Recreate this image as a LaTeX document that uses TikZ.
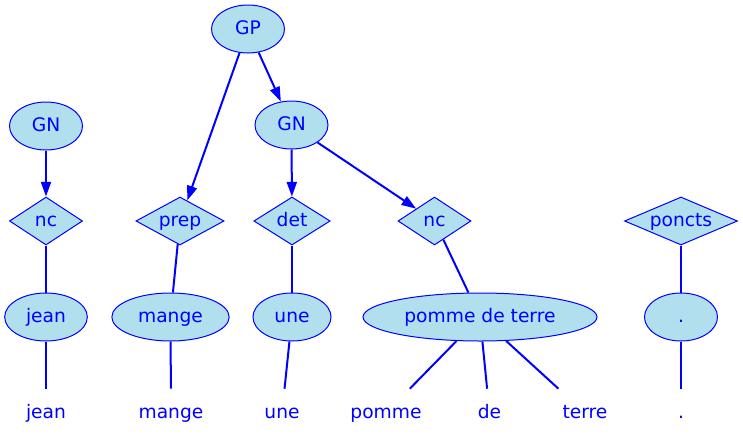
\documentclass[tikz,border=0pt]{standalone}
\usepackage{fontspec}
\setmainfont{DejaVu Sans}
\usetikzlibrary{shapes.geometric,arrows.meta}
\definecolor{treefill}{HTML}{B2DFEE}

\begin{document}
\begin{tikzpicture}[x=0.75pt, y=-0.75pt,
        font=\fontsize{14}{16}\selectfont, text=blue,
        phrase/.style={ellipse, draw=blue, fill=treefill, line width=0.75pt, inner sep=1pt,
            minimum height=36pt, minimum width=54.75pt, text height=11.6pt, text depth=3pt},
        tagbox/.style={diamond, draw=blue, fill=treefill, line width=0.75pt, inner sep=0pt,
            shape aspect=2.35, minimum height=36pt, minimum width=54.75pt, text height=11.6pt, text depth=3pt},
        leaf/.style={inner sep=2pt, minimum height=36pt, minimum width=54pt, text height=11.6pt, text depth=3pt},
        link/.style={draw=blue, line width=1.5pt},
        linkarrow/.style={link, -{Triangle[length=11pt,width=7.5pt]}}]
        \useasboundingbox (0,0) rectangle (743,443);
        % phrases
        \node[phrase] (gp) at (248,29) {GP};
        \node[phrase] (gnA) at (46,126) {GN};
        \node[phrase] (gnB) at (291.5,125) {GN};
        % tags
        \node[tagbox] (ncA) at (46,221) {nc};
        \node[tagbox, minimum width=64.5pt] (prep) at (180,221) {prep};
        \node[tagbox] (det) at (292,221) {det};
        \node[tagbox] (ncB) at (434.5,221) {nc};
        \node[tagbox, minimum width=84.75pt] (poncts) at (681,221) {poncts};
        % lexical units
        \node[phrase, minimum width=62pt] (jean) at (46,317) {jean};
        \node[phrase, minimum width=88pt] (mange) at (170.5,317) {mange};
        \node[phrase, minimum width=58.5pt] (une) at (292,317) {une};
        \node[phrase, minimum width=175.5pt] (pdt) at (480,317) {pomme de terre};
        \node[phrase] (point) at (681,317) {.};
        % words
        \node[leaf] (wJean) at (46,413) {jean};
        \node[leaf] (wMange) at (171,413) {mange};
        \node[leaf] (wUne) at (282,413) {une};
        \node[leaf] (wPomme) at (386,413) {pomme};
        \node[leaf] (wDe) at (489.5,413) {de};
        \node[leaf] (wTerre) at (585,413) {terre};
        \node[leaf] (wPoint) at (681,413) {.};

        \draw[linkarrow] (gnA) -- (ncA);
        \draw[linkarrow] (gp) -- (prep);
        \draw[linkarrow] (gp) -- (gnB);
        \draw[linkarrow] (gnB) -- (det);
        \draw[linkarrow] (gnB) -- (ncB);
        \draw[link] (ncA) -- (jean);
        \draw[link] (prep) -- (mange);
        \draw[link] (det) -- (une);
        \draw[link] (ncB) -- (pdt);
        \draw[link] (poncts) -- (point);
        \draw[link] (jean) -- (wJean);
        \draw[link] (mange) -- (wMange);
        \draw[link] (une) -- (wUne);
        \draw[link] (pdt) -- (wPomme);
        \draw[link] (pdt) -- (wDe);
        \draw[link] (pdt) -- (wTerre);
        \draw[link] (point) -- (wPoint);
    \end{tikzpicture}
\end{document}
